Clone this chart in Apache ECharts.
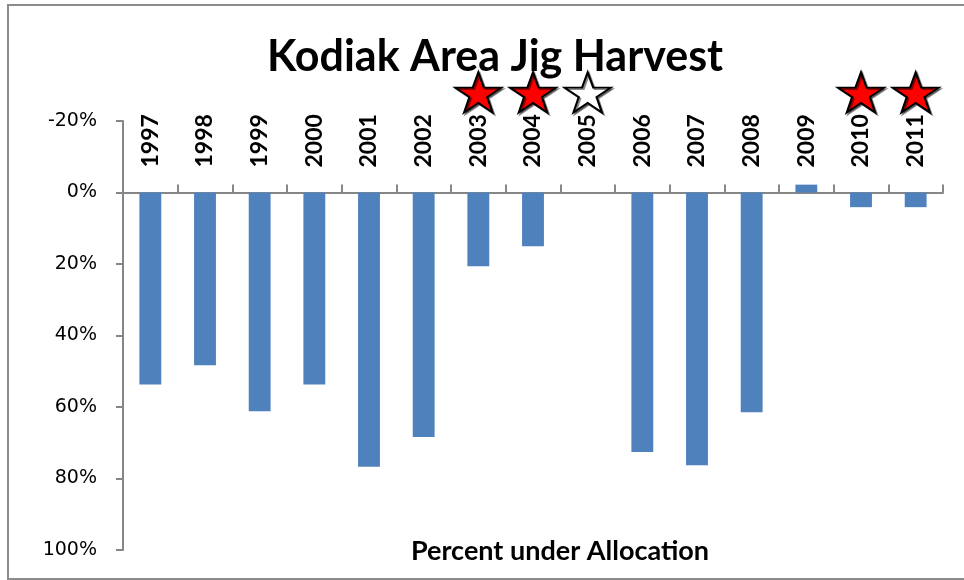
<!DOCTYPE html>
<html>
<head>
<meta charset="utf-8">
<script src="https://cdn.jsdelivr.net/npm/echarts@6/dist/echarts.min.js"></script>
<style>html,body{margin:0;padding:0;background:#fff}#c{width:964px;height:580px}</style>
</head>
<body>
<div id="c"></div>
<script>
// Data
const years = ['1997','1998','1999','2000','2001','2002','2003','2004','2005','2006','2007','2008','2009','2010','2011'];
const percentUnder = [53.7, 48.3, 61.2, 53.7, 76.7, 68.4, 20.6, 15.0, null, 72.6, 76.3, 61.5, -2.2, 4.1, 4.1];
const starYears = ['2003','2004','2005','2010','2011'];
const starFill = ['#FF0000','#FF0000','#FFFFFF','#FF0000','#FF0000'];
const starLevel = -28;
const yTicks = { min: -20, max: 100, interval: 20 };
const titleText = 'Kodiak Area Jig Harvest';
const axisTitle = 'Percent under Allocation';

const starPath = 'path://M50,0 L61.8,35.3 L98.9,35.3 L68.9,57.1 L80.2,92.7 L50,70.8 L19.8,92.7 L31.1,57.1 L1.1,35.3 L38.2,35.3 Z';
const gridTop = 121;

const chart = echarts.init(document.getElementById('c'), null, { renderer: 'canvas' });
chart.setOption({
  animation: false,
  backgroundColor: '#fff',
  title: [
    { text: titleText, left: 490, textAlign: 'center', top: 31,
      textStyle: { fontFamily: 'Lato', fontWeight: 'bold', fontSize: 43, color: '#000' } },
    { text: axisTitle, left: 555, textAlign: 'center', top: 533,
      textStyle: { fontFamily: 'Lato', fontWeight: 'bold', fontSize: 27, color: '#000' } }
  ],
  graphic: [
    { type: 'rect', shape: { x: 8, y: 5, width: 970, height: 574 },
      style: { fill: null, stroke: '#8c8c8c', lineWidth: 2 }, silent: true, z: -1 }
  ],
  grid: { left: 123, top: gridTop, right: 21, bottom: 30 },
  xAxis: {
    type: 'category',
    data: years,
    position: 'top',
    offset: 0,
    axisLine: { onZero: false, lineStyle: { color: '#868686', width: 2 } },
    axisTick: { show: true, length: 8, interval: 0, lineStyle: { color: '#868686', width: 2 } },
    axisLabel: { rotate: -90, margin: 25, interval: 0,
      fontFamily: 'Lato', fontWeight: 'bold', fontSize: 23, color: '#000' },
    splitLine: { show: false }
  },
  yAxis: {
    type: 'value',
    inverse: true,
    min: yTicks.min, max: yTicks.max, interval: yTicks.interval,
    axisLine: { show: true, lineStyle: { color: '#868686', width: 2 } },
    axisTick: { show: true, length: 7, lineStyle: { color: '#868686', width: 2 } },
    axisLabel: { formatter: '{value}%', margin: 26, fontFamily: 'DejaVu Sans', fontSize: 19, color: '#000' },
    splitLine: { show: false }
  },
  series: [
    { type: 'bar', data: percentUnder, barWidth: '40%',
      itemStyle: { color: '#4F81BD' } },
    { type: 'scatter', clip: false, symbol: starPath, symbolSize: [46, 40],
      data: starYears.map((y, i) => ({ value: [y, starLevel], itemStyle: { color: starFill[i] } })),
      itemStyle: { opacity: 1, borderColor: '#000', borderWidth: 2, shadowColor: 'rgba(0,0,0,0.45)', shadowOffsetX: 1.5, shadowOffsetY: 1.5 },
      z: 5 }
  ]
});
// Place the category axis on the zero line of the value axis
const zeroY = chart.convertToPixel({ yAxisIndex: 0 }, 0);
chart.setOption({ xAxis: { offset: -(zeroY - gridTop) } });
</script>
</body>
</html>
